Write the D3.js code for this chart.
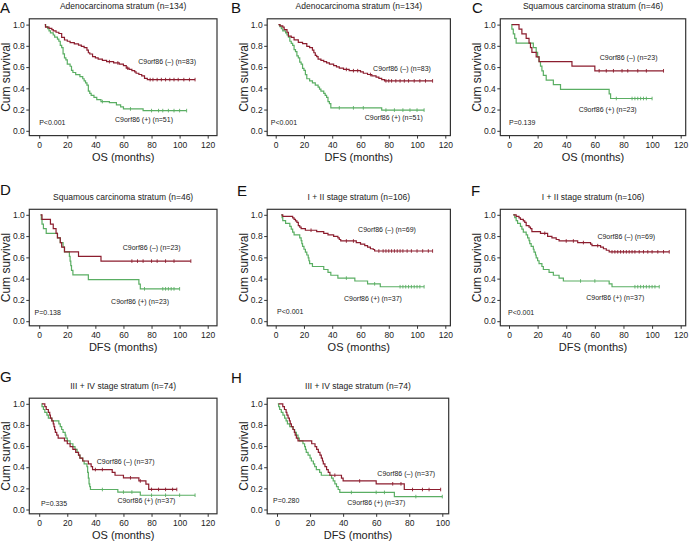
<!DOCTYPE html>
<html>
<head>
<meta charset="utf-8">
<script src="https://cdn.jsdelivr.net/npm/d3@7"></script>
<style>
  body { margin: 0; background: #fff; }
  svg { display: block; font-family: "Liberation Sans", Arial, sans-serif; }
</style>
</head>
<body>
<div id="chart"></div>
<script>
// survival step points [months, cum survival] and censor times
var aNeg = [[4,1.0],[4.5,0.976],[7,0.964],[9,0.952],[10,0.94],[12,0.928],[14,0.916],[16,0.88],[18,0.855],[20,0.843],[22,0.831],[25,0.819],[28,0.807],[30,0.795],[32,0.783],[34,0.759],[35,0.735],[36,0.723],[38,0.699],[40,0.687],[42,0.675],[45,0.663],[48,0.651],[53,0.639],[57,0.627],[60,0.614],[62,0.59],[64,0.578],[66,0.566],[68,0.554],[69,0.542],[71,0.53],[73,0.518],[75,0.494],[77,0.482],[111,0.482]];
var aNegCens = [50,56,63,79,81,84,87,90,93,96,99,103,107,111];
var aPos = [[4,1.0],[4.5,0.98],[6,0.961],[7,0.941],[8,0.922],[10,0.902],[11,0.882],[13,0.863],[14,0.843],[15,0.804],[16,0.784],[17,0.725],[18,0.686],[19,0.667],[20,0.627],[22,0.608],[23,0.569],[24,0.549],[26,0.529],[29,0.51],[31,0.49],[32,0.471],[33,0.451],[34,0.431],[35,0.373],[36,0.353],[37,0.333],[39,0.314],[41,0.294],[44,0.275],[50,0.265],[55,0.245],[58,0.225],[60,0.206],[74,0.19],[105,0.19]];
var aPosCens = [45,65,80,85,88,92,96,100,105];

var bNeg = [[2,1.0],[3,0.988],[5,0.976],[6,0.952],[8,0.928],[9,0.892],[11,0.88],[13,0.856],[16,0.832],[19,0.82],[22,0.795],[24,0.783],[26,0.759],[27,0.735],[28,0.711],[29,0.699],[30,0.675],[32,0.663],[34,0.651],[36,0.639],[38,0.627],[41,0.614],[43,0.602],[45,0.59],[48,0.578],[52,0.566],[60,0.554],[62,0.542],[65,0.53],[68,0.518],[71,0.506],[73,0.494],[75,0.482],[77,0.47],[111,0.47]];
var bNegCens = [50,55,58,67,78,80,82,85,88,91,94,98,102,106,111];
var bPos = [[2,1.0],[3,0.98],[4,0.961],[5,0.941],[7,0.922],[8,0.902],[9,0.882],[10,0.843],[11,0.824],[12,0.804],[13,0.765],[14,0.745],[15,0.706],[16,0.686],[17,0.647],[18,0.627],[19,0.588],[20,0.569],[21,0.529],[22,0.49],[24,0.471],[26,0.451],[28,0.431],[30,0.412],[31,0.392],[32,0.373],[34,0.353],[35,0.333],[36,0.314],[37,0.275],[38,0.255],[39,0.216],[75,0.195],[105,0.195]];
var bPosCens = [45,55,62,78,84,90,95,100,105];

var cNeg = [[2,1.0],[7,0.957],[9,0.913],[12,0.87],[14,0.826],[15,0.783],[16,0.739],[19,0.696],[21,0.652],[44,0.609],[60,0.565],[108,0.565]];
var cNegCens = [63,68,73,79,83,90,96,108];
var cPos = [[1.5,1.0],[2,0.957],[3,0.913],[4,0.87],[5,0.826],[17,0.783],[19,0.739],[20,0.696],[21,0.652],[22,0.609],[23,0.565],[24,0.522],[26,0.478],[31,0.435],[36,0.391],[70,0.348],[71,0.304],[100,0.304]];
var cPosCens = [75,86,88,90,92,94,96,100];

var dNeg = [[1,1.0],[2,0.957],[8,0.913],[10,0.87],[12,0.826],[13,0.783],[15,0.739],[16,0.696],[18,0.652],[28,0.609],[44,0.565],[108,0.565]];
var dNegCens = [66,70,74,80,84,90,96,108];
var dPos = [[1,1.0],[1.5,0.957],[2,0.913],[3,0.87],[5,0.826],[13,0.783],[15,0.739],[17,0.696],[18,0.652],[21.5,0.609],[22,0.565],[22.5,0.522],[23,0.478],[24,0.435],[35,0.391],[71,0.348],[72,0.304],[100,0.304]];
var dPosCens = [75,88,90,92,94,96,100];

var eNeg = [[4,1.0],[5,0.986],[12,0.971],[13,0.957],[14,0.942],[15,0.928],[16,0.899],[17,0.884],[18,0.87],[21,0.855],[29,0.841],[34,0.826],[37,0.812],[41,0.797],[44,0.783],[45,0.768],[46,0.754],[57,0.739],[60,0.725],[63,0.71],[65,0.696],[67,0.681],[69,0.674],[70,0.66],[111,0.66]];
var eNegCens = [25,50,55,73,76,78,80,82,84,86,88,90,93,96,100,104,108,111];
var ePos = [[4,1.0],[4.5,0.973],[5,0.946],[7,0.919],[10,0.892],[11,0.865],[12,0.838],[13,0.811],[17,0.784],[18,0.757],[18.5,0.73],[19,0.703],[20,0.676],[21,0.649],[22,0.622],[23,0.595],[23.5,0.568],[24,0.541],[26,0.514],[34,0.486],[37,0.459],[39,0.432],[44,0.405],[56,0.378],[65,0.351],[74,0.324],[105,0.324]];
var ePosCens = [50,70,88,90,92,94,96,98,100,102,105];

var fNeg = [[3,1.0],[5,0.986],[7,0.971],[8,0.957],[10,0.942],[11,0.928],[12,0.899],[14,0.884],[15,0.87],[16,0.841],[22,0.826],[27,0.797],[30,0.783],[33,0.768],[35,0.754],[48,0.739],[57,0.725],[58,0.71],[64,0.696],[66,0.681],[68,0.667],[70,0.652],[112,0.652]];
var fNegCens = [25,40,45,52,62,72,74,76,78,80,82,84,86,88,91,94,97,100,104,108,112];
var fPos = [[3,1.0],[4,0.973],[5,0.946],[6,0.919],[8,0.892],[9,0.865],[10,0.838],[12,0.811],[13,0.784],[14,0.757],[14.5,0.73],[15.5,0.703],[17,0.676],[17.5,0.649],[18.5,0.622],[19,0.595],[20,0.568],[21,0.541],[23,0.514],[24,0.486],[28,0.459],[31,0.432],[35,0.405],[38,0.378],[70,0.351],[72,0.324],[105,0.324]];
var fPosCens = [50,60,88,90,92,94,96,98,100,102,105];

var gNeg = [[2,1.0],[4,0.973],[5,0.946],[6.5,0.919],[7.5,0.892],[8,0.865],[9,0.838],[10,0.811],[10.5,0.784],[11,0.757],[11.5,0.73],[12.5,0.703],[13.5,0.676],[18,0.649],[20,0.622],[22,0.595],[24,0.568],[26,0.541],[28,0.514],[29,0.486],[31,0.459],[35,0.432],[37,0.405],[38,0.378],[52,0.351],[54,0.324],[60,0.30],[71,0.27],[76,0.24],[78,0.19],[98,0.19]];
var gNegCens = [40,45,65,72,80,85,90,95,98];
var gPos = [[1.5,1.0],[2,0.973],[3,0.946],[4,0.919],[5.5,0.892],[6.5,0.865],[9,0.838],[14,0.811],[15,0.784],[16,0.757],[17,0.73],[18.5,0.703],[19,0.676],[20,0.649],[22,0.622],[24,0.595],[25.5,0.568],[27,0.541],[28,0.514],[29,0.486],[31,0.459],[32,0.432],[34,0.405],[34.5,0.351],[35,0.297],[35.5,0.243],[36,0.216],[36.5,0.189],[56,0.165],[72,0.135],[111,0.135]];
var gPosCens = [45,60,66,80,90,100,111];

var hNeg = [[1,1.0],[3.5,0.973],[4.5,0.946],[5.5,0.919],[6,0.892],[6.7,0.865],[7.5,0.838],[8,0.811],[8.7,0.784],[9.7,0.757],[10.5,0.73],[11,0.703],[11.7,0.676],[12.7,0.649],[21,0.622],[23,0.595],[24,0.568],[25,0.541],[26,0.514],[26.8,0.486],[27.5,0.459],[28,0.432],[29,0.405],[30,0.378],[31,0.351],[32,0.324],[39,0.297],[40,0.27],[60,0.243],[77,0.189],[99,0.189]];
var hNegCens = [35,50,70,75,82,88,92,99];
var hPos = [[0.5,1.0],[1,0.973],[1.6,0.946],[2.6,0.919],[3.6,0.892],[4.6,0.865],[5.5,0.838],[6.3,0.811],[7.7,0.784],[9.7,0.757],[10.7,0.73],[11.7,0.703],[12.7,0.676],[13.5,0.649],[15.7,0.622],[16.7,0.595],[17.2,0.568],[17.7,0.541],[18.8,0.514],[20,0.486],[20.8,0.459],[22,0.432],[22.8,0.405],[23.8,0.378],[25.8,0.351],[26.8,0.324],[33,0.297],[34,0.27],[35,0.243],[36,0.216],[37,0.189],[38,0.162],[71,0.122],[100,0.122]];
var hPosCens = [45,60,65,84,100];

var yTicks = [0, 0.2, 0.4, 0.6, 0.8, 1.0];
var xTicks120 = [0, 20, 40, 60, 80, 100, 120];
var xTicks100 = [0, 20, 40, 60, 80, 100];

var redColor = "#8c1d2e";
var greenColor = "#5aae63";

// frame boxes for the 3 columns and 3 rows (pixels)
var cols = [
  {x: 29.3, w: 187.7, r0: 39.2, r1: 207.7},
  {x: 267.2, w: 183.2, r0: 275.7, r1: 445.3},
  {x: 500.3, w: 185.4, r0: 509, r1: 680.7}
];
var rows = [
  {y: 18.8, h: 116.8, top: 24.6, bot: 130.8},
  {y: 209.3, h: 116.5, top: 214.8, bot: 321.2},
  {y: 398.2, h: 115.6, top: 403.8, bot: 509.5}
];

var panels = [
  {id: "A", lx: 0, ly: 13, col: 0, row: 0, title: "Adenocarcinoma stratum (n=134)", xlab: "OS (months)", p: "P<0.001",
   neg: aNeg, negCens: aNegCens, pos: aPos, posCens: aPosCens, negN: 83, posN: 51,
   negAt: [70.5, 0.625], posAt: [54, 0.085], pAt: [0, 0.055]},
  {id: "B", lx: 231, ly: 13, col: 1, row: 0, title: "Adenocarcinoma stratum (n=134)", xlab: "DFS (months)", p: "P<0.001",
   neg: bNeg, negCens: bNegCens, pos: bPos, posCens: bPosCens, negN: 83, posN: 51,
   negAt: [68.9, 0.56], posAt: [63, 0.105], pAt: [-3.5, 0.055]},
  {id: "C", lx: 472, ly: 13, col: 2, row: 0, title: "Squamous carcinoma stratum (n=46)", xlab: "OS (months)", p: "P=0.139",
   neg: cNeg, negCens: cNegCens, pos: cPos, posCens: cPosCens, negN: 23, posN: 23,
   negAt: [63.4, 0.665], posAt: [48.7, 0.175], pAt: [0, 0.05]},
  {id: "D", lx: 0, ly: 195, col: 0, row: 1, title: "Squamous carcinoma stratum (n=46)", xlab: "DFS (months)", p: "P=0.138",
   neg: dNeg, negCens: dNegCens, pos: dPos, posCens: dPosCens, negN: 23, posN: 23,
   negAt: [59.5, 0.665], posAt: [51.2, 0.16], pAt: [-3.3, 0.055]},
  {id: "E", lx: 237, ly: 196, col: 1, row: 1, title: "I + II stage stratum (n=106)", xlab: "OS (months)", p: "P<0.001",
   neg: eNeg, negCens: eNegCens, pos: ePos, posCens: ePosCens, negN: 69, posN: 37,
   negAt: [58.3, 0.835], posAt: [48.3, 0.19], pAt: [1, 0.07]},
  {id: "F", lx: 471, ly: 196, col: 2, row: 1, title: "I + II stage stratum (n=106)", xlab: "DFS (months)", p: "P<0.001",
   neg: fNeg, negCens: fNegCens, pos: fPos, posCens: fPosCens, negN: 69, posN: 37,
   negAt: [61.8, 0.77], posAt: [54, 0.2], pAt: [-0.7, 0.055]},
  {id: "G", lx: 0, ly: 382, col: 0, row: 2, title: "III + IV stage stratum (n=74)", xlab: "OS (months)", p: "P=0.335",
   neg: gNeg, negCens: gNegCens, pos: gPos, posCens: gPosCens, negN: 37, posN: 37,
   negAt: [41, 0.435], posAt: [55.7, 0.06], pAt: [1.2, 0.035]},
  {id: "H", lx: 231, ly: 383, col: 1, row: 2, title: "III + IV stage stratum (n=74)", xlab: "DFS (months)", p: "P=0.280",
   neg: hNeg, negCens: hNegCens, pos: hPos, posCens: hPosCens, negN: 37, posN: 37,
   negAt: [60.7, 0.315], posAt: [42.5, 0.04], pAt: [-2.4, 0.065],
   xMax: 100, w: 181.5, r0: 277, r1: 442.3}
];

var svg = d3.select("#chart").append("svg")
  .attr("width", 689)
  .attr("height", 544);

function survAt(pts, t) {
  var s = pts[0][1];
  pts.forEach(function(p) { if (p[0] <= t) s = p[1]; });
  return s;
}

function drawPanel(p) {
  var c = cols[p.col], r = rows[p.row];
  var fx = c.x, fw = p.w || c.w;
  var xMax = p.xMax || 120;
  var x = d3.scaleLinear().domain([0, xMax]).range([p.r0 || c.r0, p.r1 || c.r1]);
  var y = d3.scaleLinear().domain([0, 1]).range([r.bot, r.top]);
  var g = svg.append("g");

  // panel letter + title
  g.append("text").attr("x", p.lx).attr("y", p.ly)
    .style("font-size", "15px").style("fill", "#111").text(p.id);
  g.append("text").attr("x", fx + fw / 2).attr("y", r.y - 9.5)
    .attr("text-anchor", "middle").style("font-size", "8.5px").style("fill", "#222")
    .text(p.title);

  // frame
  g.append("rect").attr("x", fx).attr("y", r.y).attr("width", fw).attr("height", r.h)
    .attr("fill", "#fff").attr("stroke", "#333").attr("stroke-width", 1.2);

  // axes
  var xAxis = d3.axisBottom(x).tickValues(xMax === 100 ? xTicks100 : xTicks120)
    .tickSize(3).tickPadding(3);
  var yAxis = d3.axisLeft(y).tickValues(yTicks).tickFormat(d3.format(".1f"))
    .tickSize(3).tickPadding(1.5);

  var gx = g.append("g").attr("transform", "translate(0," + (r.y + r.h) + ")").call(xAxis);
  var gy = g.append("g").attr("transform", "translate(" + fx + ",0)").call(yAxis);
  [gx, gy].forEach(function(a) {
    a.select(".domain").remove();
    a.selectAll("line").attr("stroke", "#333").attr("stroke-width", 1);
    a.selectAll("text").style("font-size", "8.5px").style("fill", "#222")
      .style("font-family", "Liberation Sans, Arial, sans-serif");
  });

  g.append("text").attr("x", fx + fw / 2).attr("y", r.y + r.h + 25.5)
    .attr("text-anchor", "middle").style("font-size", "11px").style("fill", "#222")
    .text(p.xlab);
  g.append("text")
    .attr("transform", "translate(" + (fx - 19) + "," + (r.y + r.h / 2) + ") rotate(-90)")
    .attr("text-anchor", "middle").style("font-size", "12px").style("fill", "#222")
    .text("Cum survival");

  // curves
  var line = d3.line()
    .x(function(d) { return x(d[0]); })
    .y(function(d) { return y(d[1]); })
    .curve(d3.curveStepAfter);

  [[p.pos, p.posCens, greenColor], [p.neg, p.negCens, redColor]].forEach(function(s) {
    g.append("path").datum(s[0]).attr("d", line)
      .attr("fill", "none").attr("stroke", s[2]).attr("stroke-width", 1.2);
    g.selectAll(null).data(s[1]).enter().append("line")
      .attr("x1", function(t) { return x(t); })
      .attr("x2", function(t) { return x(t); })
      .attr("y1", function(t) { return y(survAt(s[0], t)) - 1.8; })
      .attr("y2", function(t) { return y(survAt(s[0], t)) + 1.8; })
      .attr("stroke", s[2]).attr("stroke-width", 0.9);
  });

  // annotations
  var notes = [
    [p.negAt, "C9orf86 (\u2013) (n=" + p.negN + ")"],
    [p.posAt, "C9orf86 (+) (n=" + p.posN + ")"],
    [p.pAt, p.p]
  ];
  notes.forEach(function(n) {
    g.append("text").attr("x", x(n[0][0])).attr("y", y(n[0][1]))
      .style("font-size", "7px").style("fill", "#222").text(n[1]);
  });
}

panels.forEach(drawPanel);
</script>
</body>
</html>
